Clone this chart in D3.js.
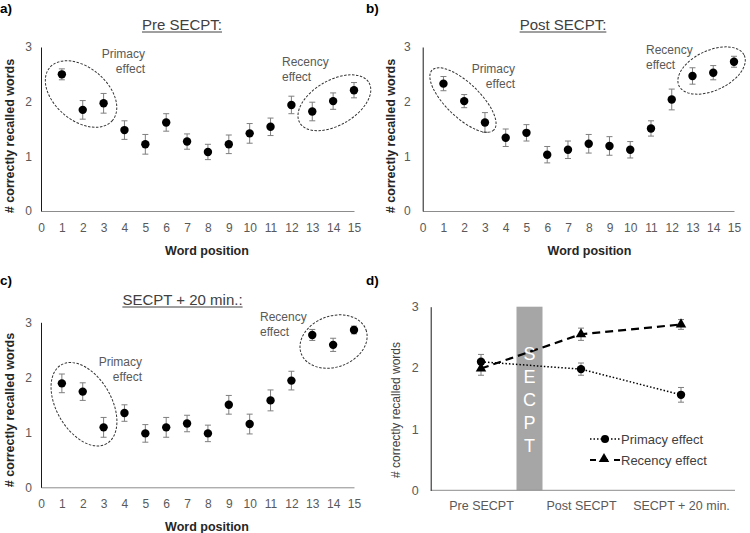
<!DOCTYPE html>
<html>
<head>
<meta charset="utf-8">
<script src="https://cdn.jsdelivr.net/npm/d3@7"></script>
<style>
  body { margin: 0; background: #fff; }
  text { font-family: "Liberation Sans", Arial, sans-serif; }
</style>
</head>
<body>
<div id="chart"></div>
<script>
// Data
var wordPositions = [1, 2, 3, 4, 5, 6, 7, 8, 9, 10, 11, 12, 13, 14, 15];

var preMeans = [2.50, 1.85, 1.97, 1.48, 1.22, 1.62, 1.27, 1.08, 1.22, 1.42, 1.54, 1.94, 1.82, 2.01, 2.21];
var preErr   = [0.10, 0.17, 0.18, 0.17, 0.18, 0.16, 0.14, 0.14, 0.17, 0.18, 0.16, 0.16, 0.17, 0.15, 0.14];

var postMeans = [2.33, 2.01, 1.62, 1.34, 1.43, 1.03, 1.12, 1.23, 1.19, 1.12, 1.51, 2.04, 2.47, 2.53, 2.73];
var postErr   = [0.13, 0.12, 0.18, 0.16, 0.15, 0.15, 0.16, 0.17, 0.17, 0.15, 0.14, 0.19, 0.15, 0.13, 0.10];

var later20Means = [1.89, 1.74, 1.09, 1.35, 0.98, 1.09, 1.16, 0.98, 1.50, 1.15, 1.58, 1.94, 2.77, 2.59, 2.86];
var later20Err   = [0.17, 0.16, 0.18, 0.15, 0.16, 0.18, 0.15, 0.15, 0.17, 0.18, 0.19, 0.17, 0.10, 0.12, 0.07];

var conditions = ["Pre SECPT", "Post SECPT", "SECPT + 20 min."];
var primacyMeans = [2.10, 1.98, 1.56];
var primacyErr   = [0.12, 0.10, 0.12];
var recencyMeans = [1.99, 2.55, 2.71];
var recencyErr   = [0.11, 0.10, 0.08];

var xTickValues = [0, 1, 2, 3, 4, 5, 6, 7, 8, 9, 10, 11, 12, 13, 14, 15];
var yTickValues = [0, 1, 2, 3];
var secptLetters = ["S", "E", "C", "P", "T"];

var width = 750;
var height = 533;

var svg = d3.select("#chart")
  .append("svg")
  .attr("width", width)
  .attr("height", height);

var tickColor = "#595959";
var titleColor = "#262626";
var intFormat = d3.format("d");

// one scatter panel (a, b, c)
function drawScatter(p) {
  var xScale = d3.scaleLinear().domain([0, 15]).range([p.left, p.right]);
  var yScale = d3.scaleLinear().domain([0, 3]).range([p.bottom, p.top]);
  var g = svg.append("g");

  var xAxis = d3.axisBottom(xScale).tickValues(xTickValues).tickFormat(intFormat)
    .tickSize(0).tickPadding(12);
  var gx = g.append("g")
    .attr("transform", "translate(0," + p.bottom + ")")
    .call(xAxis);
  gx.select(".domain").attr("stroke", "#8c8c8c");
  gx.selectAll("text").attr("font-size", 12).attr("fill", tickColor)
    .style("font-family", "Liberation Sans, Arial, sans-serif");

  var yAxis = d3.axisLeft(yScale).tickValues(yTickValues).tickFormat(intFormat)
    .tickSize(0).tickPadding(p.yPad);
  var gy = g.append("g")
    .attr("transform", "translate(" + p.left + ",0)")
    .call(yAxis);
  gy.select(".domain").attr("stroke", "#1a1a1a");
  gy.selectAll("text").attr("font-size", 12).attr("fill", tickColor)
    .style("font-family", "Liberation Sans, Arial, sans-serif");

  // error bars
  var bars = g.selectAll(".err").data(wordPositions).enter().append("g");
  bars.append("line")
    .attr("x1", function(d) { return xScale(d); })
    .attr("x2", function(d) { return xScale(d); })
    .attr("y1", function(d, i) { return yScale(p.means[i] - p.errs[i]); })
    .attr("y2", function(d, i) { return yScale(p.means[i] + p.errs[i]); })
    .attr("stroke", "#7f7f7f").attr("stroke-width", 1);
  [-1, 1].forEach(function(s) {
    bars.append("line")
      .attr("x1", function(d) { return xScale(d) - 3; })
      .attr("x2", function(d) { return xScale(d) + 3; })
      .attr("y1", function(d, i) { return yScale(p.means[i] + s * p.errs[i]); })
      .attr("y2", function(d, i) { return yScale(p.means[i] + s * p.errs[i]); })
      .attr("stroke", "#7f7f7f").attr("stroke-width", 1);
  });

  // dots
  g.selectAll(".dot").data(wordPositions).enter().append("circle")
    .attr("cx", function(d) { return xScale(d); })
    .attr("cy", function(d, i) { return yScale(p.means[i]); })
    .attr("r", 4.2)
    .attr("fill", "#000");

  // dashed ellipses around primacy / recency words
  p.ellipses.forEach(function(e) {
    g.append("ellipse")
      .attr("transform", "translate(" + xScale(e.cx) + "," + yScale(e.cy) + ") rotate(" + e.rot + ")")
      .attr("rx", e.rx).attr("ry", e.ry)
      .attr("fill", "none")
      .attr("stroke", "#333")
      .attr("stroke-width", 1)
      .attr("stroke-dasharray", "2.5,1.5");
  });

  // annotation labels
  p.notes.forEach(function(n) {
    var t = g.append("text")
      .attr("x", n.x).attr("y", n.y)
      .attr("text-anchor", n.anchor)
      .attr("font-size", 12)
      .attr("fill", tickColor);
    t.append("tspan").attr("x", n.x).text(n.lines[0]);
    t.append("tspan").attr("x", n.x).attr("dy", 14.5).text(n.lines[1]);
  });

  // title with underline
  var title = g.append("text")
    .attr("x", p.titleX).attr("y", p.titleY)
    .attr("text-anchor", "middle")
    .attr("font-size", 15)
    .attr("fill", "#404040")
    .text(p.title);
  var tw = title.node().getComputedTextLength();
  g.append("line")
    .attr("x1", p.titleX - tw / 2).attr("x2", p.titleX + tw / 2)
    .attr("y1", p.titleY + 2).attr("y2", p.titleY + 2)
    .attr("stroke", "#404040").attr("stroke-width", 1);

  // axis titles
  g.append("text")
    .attr("x", p.xTitleX).attr("y", p.bottom + 43.5)
    .attr("text-anchor", "middle")
    .attr("font-size", 12.5).attr("font-weight", "bold")
    .attr("fill", titleColor)
    .text("Word position");
  g.append("text")
    .attr("transform", "translate(" + p.yTitleX + "," + p.yTitleY + ") rotate(-90)")
    .attr("text-anchor", "middle")
    .attr("font-size", 12.5).attr("font-weight", "bold")
    .attr("fill", titleColor)
    .text("# correctly recalled words");

  // panel letter
  g.append("text")
    .attr("x", p.labelX).attr("y", p.labelY)
    .attr("font-size", 13.5).attr("font-weight", "bold")
    .attr("fill", "#000")
    .text(p.label);
}

drawScatter({
  means: preMeans, errs: preErr, title: "Pre SECPT:", label: "a)",
  left: 41, right: 354, top: 47, bottom: 211, yPad: 9,
  titleX: 182, titleY: 30, xTitleX: 207, yTitleX: 13.5, yTitleY: 136,
  labelX: 0, labelY: 13,
  ellipses: [
    { cx: 1.92, cy: 2.14, rx: 41, ry: 26.5, rot: 40 },
    { cx: 14.06, cy: 1.98, rx: 40, ry: 22.5, rot: -30 }
  ],
  notes: [
    { x: 145, y: 58, anchor: "end", lines: ["Primacy", "effect"] },
    { x: 282, y: 66, anchor: "start", lines: ["Recency", "effect"] }
  ]
});

drawScatter({
  means: postMeans, errs: postErr, title: "Post SECPT:", label: "b)",
  left: 422.7, right: 734, top: 47, bottom: 211, yPad: 12,
  titleX: 563, titleY: 30, xTitleX: 589.5, yTitleX: 394.5, yTitleY: 136,
  labelX: 366, labelY: 13,
  ellipses: [
    { cx: 1.94, cy: 2.03, rx: 43, ry: 17, rot: 44 },
    { cx: 13.92, cy: 2.57, rx: 36, ry: 20, rot: -25 }
  ],
  notes: [
    { x: 515, y: 73, anchor: "end", lines: ["Primacy", "effect"] },
    { x: 646, y: 54, anchor: "start", lines: ["Recency", "effect"] }
  ]
});

drawScatter({
  means: later20Means, errs: later20Err, title: "SECPT + 20 min.:", label: "c)",
  left: 41, right: 354, top: 322.3, bottom: 487.3, yPad: 9,
  titleX: 182.5, titleY: 305, xTitleX: 207, yTitleX: 13.5, yTitleY: 410,
  labelX: 0, labelY: 285,
  ellipses: [
    { cx: 2.06, cy: 1.51, rx: 45.5, ry: 27.5, rot: 60 },
    { cx: 14.02, cy: 2.65, rx: 34.5, ry: 25.5, rot: -20 }
  ],
  notes: [
    { x: 142, y: 366, anchor: "end", lines: ["Primacy", "effect"] },
    { x: 260, y: 321, anchor: "start", lines: ["Recency", "effect"] }
  ]
});

// panel d: primacy vs recency across conditions
(function() {
  var left = 430.7, right = 735, top = 306.7, bottom = 490.3;
  var xScale = d3.scalePoint().domain(conditions).range([431, 731]).padding(0.5);
  var yScale = d3.scaleLinear().domain([0, 3]).range([bottom, top]);
  var g = svg.append("g");

  // SECPT bar between pre and post
  var barCenter = (xScale(conditions[0]) + xScale(conditions[1])) / 2 - 1.5;
  g.append("rect")
    .attr("x", barCenter - 13).attr("width", 26)
    .attr("y", yScale(3)).attr("height", yScale(0) - yScale(3))
    .attr("fill", "#a6a6a6");

  var xAxis = d3.axisBottom(xScale).tickSize(0).tickPadding(10.5).tickSizeOuter(0);
  var gx = g.append("g")
    .attr("transform", "translate(0," + bottom + ")")
    .call(xAxis);
  gx.select(".domain").remove();
  g.append("line")
    .attr("x1", left).attr("x2", right)
    .attr("y1", bottom).attr("y2", bottom)
    .attr("stroke", "#8c8c8c");
  gx.selectAll("text").attr("font-size", 12.5).attr("fill", tickColor)
    .style("font-family", "Liberation Sans, Arial, sans-serif");

  var yAxis = d3.axisLeft(yScale).tickValues(yTickValues).tickFormat(intFormat)
    .tickSize(0).tickPadding(12);
  var gy = g.append("g")
    .attr("transform", "translate(" + left + ",0)")
    .call(yAxis);
  gy.select(".domain").attr("stroke", "#1a1a1a");
  gy.selectAll("text").attr("font-size", 12.5).attr("fill", tickColor)
    .style("font-family", "Liberation Sans, Arial, sans-serif");

  var line = d3.line()
    .x(function(d, i) { return xScale(conditions[i]); })
    .y(function(d) { return yScale(d); });

  g.append("path").datum(primacyMeans)
    .attr("d", line).attr("fill", "none")
    .attr("stroke", "#000").attr("stroke-width", 1.5)
    .attr("stroke-dasharray", "1.5,2");
  g.append("path").datum(recencyMeans)
    .attr("d", line).attr("fill", "none")
    .attr("stroke", "#000").attr("stroke-width", 2.2)
    .attr("stroke-dasharray", "8,5");

  // white letters on the bar
  secptLetters.forEach(function(l, i) {
    g.append("text")
      .attr("x", barCenter).attr("y", 359.5 + i * 23)
      .attr("text-anchor", "middle")
      .attr("font-size", 18)
      .attr("fill", "#fff")
      .text(l);
  });

  function errBars(means, errs) {
    means.forEach(function(m, i) {
      var x = xScale(conditions[i]);
      g.append("line").attr("x1", x).attr("x2", x)
        .attr("y1", yScale(m - errs[i])).attr("y2", yScale(m + errs[i]))
        .attr("stroke", "#7f7f7f");
      [-1, 1].forEach(function(s) {
        g.append("line").attr("x1", x - 3).attr("x2", x + 3)
          .attr("y1", yScale(m + s * errs[i])).attr("y2", yScale(m + s * errs[i]))
          .attr("stroke", "#7f7f7f");
      });
    });
  }
  errBars(primacyMeans, primacyErr);
  errBars(recencyMeans, recencyErr);

  var tri = d3.symbol().type(d3.symbolTriangle).size(48);

  g.selectAll(".pm").data(primacyMeans).enter().append("circle")
    .attr("cx", function(d, i) { return xScale(conditions[i]); })
    .attr("cy", function(d) { return yScale(d); })
    .attr("r", 4.2).attr("fill", "#000");
  g.selectAll(".rm").data(recencyMeans).enter().append("path")
    .attr("d", tri)
    .attr("transform", function(d, i) { return "translate(" + xScale(conditions[i]) + "," + yScale(d) + ")"; })
    .attr("fill", "#000");

  // legend
  var lg = g.append("g");
  lg.append("line").attr("x1", 590).attr("x2", 620).attr("y1", 439).attr("y2", 439)
    .attr("stroke", "#000").attr("stroke-width", 1.5).attr("stroke-dasharray", "1.5,2");
  lg.append("circle").attr("cx", 605).attr("cy", 439).attr("r", 4).attr("fill", "#000");
  lg.append("text").attr("x", 621).attr("y", 443.5).attr("font-size", 13)
    .attr("fill", "#404040").text("Primacy effect");
  lg.append("line").attr("x1", 590).attr("x2", 621).attr("y1", 460).attr("y2", 460)
    .attr("stroke", "#000").attr("stroke-width", 2).attr("stroke-dasharray", "6,6");
  lg.append("path").attr("d", tri).attr("transform", "translate(604,459)").attr("fill", "#000");
  lg.append("text").attr("x", 621).attr("y", 464.5).attr("font-size", 13)
    .attr("fill", "#404040").text("Recency effect");

  g.append("text")
    .attr("transform", "translate(399.5,410) rotate(-90)")
    .attr("text-anchor", "middle")
    .attr("font-size", 12)
    .attr("fill", "#404040")
    .text("# correctly recalled words");

  g.append("text")
    .attr("x", 366).attr("y", 285)
    .attr("font-size", 13.5).attr("font-weight", "bold")
    .attr("fill", "#000")
    .text("d)");
})();
</script>
</body>
</html>
